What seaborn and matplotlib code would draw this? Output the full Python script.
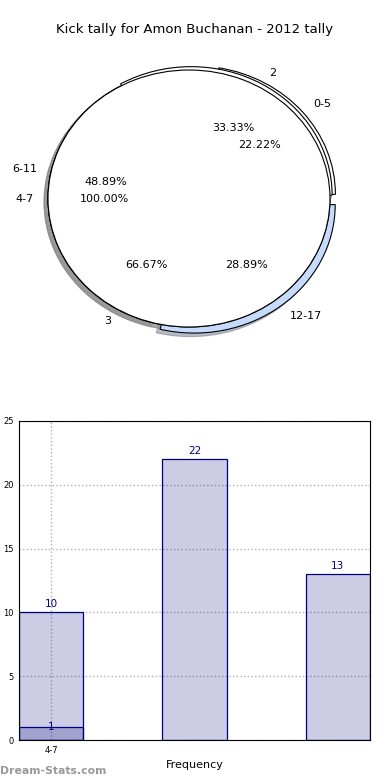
import matplotlib
matplotlib.use("Agg")
import matplotlib.pyplot as plt
import seaborn as sns
import numpy as np
import pandas as pd

# pie data (three overlaid pies)
ranges = ["0-5", "6-11", "12-17"]
range_counts = [10, 22, 13]
kick_labels = ["2", "3"]
kick_counts = [1, 2]
single_label = ["4-7"]
single_count = [1]

# bar data
bar_pos = [0, 1, 2]
bar_vals = [10, 22, 13]
overlay_val = [1]
tick_label = "4-7"

sns.set_style("white")
plt.rcParams['font.family'] = ['DejaVu Sans']
plt.rcParams['text.color'] = 'black'
plt.rcParams['axes.labelcolor'] = 'black'
plt.rcParams['xtick.color'] = 'black'
plt.rcParams['ytick.color'] = 'black'

fig = plt.figure(figsize=(3.9, 7.8), dpi=100)
fig.text(0.5, 1 - 30 / 780, "Kick tally for Amon Buchanan - 2012 tally",
         ha='center', va='center', fontsize=9.5)

# ---- pie ----
ax1 = fig.add_axes([48 / 390, 1 - 327 / 780, 282 / 390, 257 / 780])
wp = dict(edgecolor='black', linewidth=0.8)
shd = dict(shade=0.45)
ax1.pie(range_counts, labels=ranges, autopct='%.2f%%', startangle=0,
        colors=['white', 'white', '#c6dafc'], explode=(0.05, 0, 0.06),
        shadow=shd, wedgeprops=wp, textprops=dict(fontsize=8))
ax1.pie(kick_counts, labels=kick_labels, autopct='%.2f%%', startangle=0,
        colors=['white', 'white'], explode=(0.03, 0),
        shadow=shd, wedgeprops=wp, textprops=dict(fontsize=8))
ax1.pie(single_count, labels=single_label, autopct='%.2f%%', startangle=0,
        colors=['white'], shadow=shd, wedgeprops=wp,
        textprops=dict(fontsize=8))
ax1.set_aspect('auto')
ax1.set_xlim(-1, 1)
ax1.set_ylim(-1, 1)
ax1.axis('off')

# ---- bars ----
ax2 = fig.add_axes([19 / 390, 1 - 740 / 780, 351 / 390, 319 / 780])
df = pd.DataFrame({'pos': bar_pos, 'val': bar_vals})
sns.barplot(data=df, x='pos', y='val', ax=ax2, width=0.45, color='navy')
df2 = pd.DataFrame({'pos': [0], 'val': overlay_val})
sns.barplot(data=df2, x='pos', y='val', ax=ax2, width=0.45, color='navy')
for p in ax2.patches:
    p.set_facecolor((0, 0, 0.5, 0.2))
    p.set_edgecolor('navy')
    p.set_linewidth(0.9)

for x, v in zip(bar_pos, bar_vals):
    ax2.text(x, v + 0.25, str(v), ha='center', va='bottom', color='navy', fontsize=7.5)
ax2.text(0, overlay_val[0], str(overlay_val[0]), ha='center', va='center',
         color='navy', fontsize=7.5)

ax2.set_xlim(-0.225, 2.225)
ax2.set_ylim(0, 25)
ax2.set_yticks([0, 5, 10, 15, 20, 25])
ax2.set_xticks([0])
ax2.set_xticklabels([tick_label])
ax2.tick_params(labelsize=6, length=2, pad=2)
ax2.grid(True, linestyle=':', color='#b0b0b0', linewidth=1)
ax2.set_axisbelow(True)
for s in ax2.spines.values():
    s.set_color('black')
    s.set_linewidth(0.8)
ax2.set_xlabel("Frequency", fontsize=8, labelpad=4)
ax2.set_ylabel("Kick tally", fontsize=7, labelpad=2)

fig.text(0.0, 1 - 771 / 780, "Dream-Stats.com", ha='left', va='center',
         fontsize=7.8, color='#999999', fontweight='bold')

fig.savefig("out.png", dpi=100)
